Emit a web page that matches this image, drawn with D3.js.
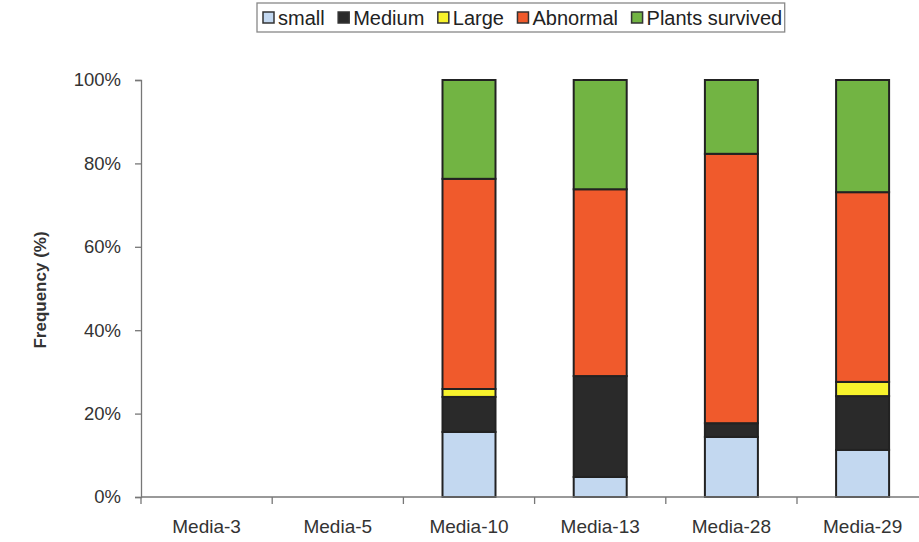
<!DOCTYPE html>
<html>
<head>
<meta charset="utf-8">
<script src="https://cdn.jsdelivr.net/npm/d3@7"></script>
<style>
  html, body { margin: 0; padding: 0; background: #fff; }
  svg { display: block; font-family: "Liberation Sans", Arial, sans-serif; }
</style>
</head>
<body>
<svg id="chart" width="919" height="542"></svg>
<script>
// Media treatments on the x axis
const categories = ["Media-3", "Media-5", "Media-10", "Media-13", "Media-28", "Media-29"];

// Outcome classes, stacked bottom to top
const seriesNames = ["small", "Medium", "Large", "Abnormal", "Plants survived"];
const seriesColors = ["#c3d8f0", "#2a2a2a", "#f7f22c", "#f05a2c", "#72b443"];

// Share of each class per medium (fractions of 1)
const small          = [0, 0, 0.156, 0.048, 0.144, 0.113];
const medium         = [0, 0, 0.084, 0.242, 0.033, 0.129];
const large          = [0, 0, 0.019, 0.000, 0.000, 0.034];
const abnormal       = [0, 0, 0.504, 0.448, 0.646, 0.455];
const plantsSurvived = [0, 0, 0.237, 0.262, 0.177, 0.269];

const yTicks = [0, 0.2, 0.4, 0.6, 0.8, 1.0];

const seriesValues = [small, medium, large, abnormal, plantsSurvived];
const rows = categories.map((c, i) => {
  const r = { cat: c };
  seriesNames.forEach((s, k) => { r[s] = seriesValues[k][i]; });
  return r;
});

const svg = d3.select("#chart");
const plotLeft = 141, plotTop = 80, plotBottom = 497, bandW = 131.2;

const x = d3.scaleBand()
  .domain(categories)
  .range([plotLeft, plotLeft + bandW * categories.length])
  .padding(0);

const y = d3.scaleLinear().domain([0, 1]).range([plotBottom, plotTop]);

const stack = d3.stack().keys(seriesNames);
const layers = stack(rows);

// Stacked bars
const barW = 53;
svg.append("g").selectAll("g")
  .data(layers)
  .join("g")
  .attr("fill", (d, i) => seriesColors[i])
  .selectAll("rect")
  .data(d => d.filter(p => p[1] - p[0] > 0))
  .join("rect")
  .attr("x", d => x(d.data.cat) + x.bandwidth() / 2 - barW / 2)
  .attr("y", d => y(d[1]))
  .attr("width", barW)
  .attr("height", d => y(d[0]) - y(d[1]))
  .attr("stroke", "#222")
  .attr("stroke-width", 2);

// Y axis
const yAxis = d3.axisLeft(y)
  .tickValues(yTicks)
  .tickFormat(d3.format(".0%"))
  .tickSize(6)
  .tickPadding(14);
const gy = svg.append("g").attr("transform", `translate(${plotLeft},0)`).call(yAxis);
gy.select(".domain").attr("stroke", "#777").attr("stroke-width", 1.3);
gy.selectAll(".tick line").attr("stroke", "#777").attr("stroke-width", 1.3);
gy.selectAll(".tick text")
  .attr("font-size", 18.5)
  .attr("fill", "#333")
  .attr("font-family", "Liberation Sans, Arial, sans-serif");

// X axis: ticks at the category boundaries
const gx = svg.append("g").attr("transform", `translate(0,${plotBottom})`);
gx.append("line")
  .attr("x1", plotLeft).attr("x2", x.range()[1])
  .attr("stroke", "#777").attr("stroke-width", 1.3);
gx.selectAll("line.tk")
  .data(d3.range(categories.length + 1))
  .join("line")
  .attr("class", "tk")
  .attr("x1", i => plotLeft + i * x.step())
  .attr("x2", i => plotLeft + i * x.step())
  .attr("y1", 0).attr("y2", 7)
  .attr("stroke", "#777").attr("stroke-width", 1.3);
gx.selectAll("text")
  .data(categories)
  .join("text")
  .attr("x", d => x(d) + x.bandwidth() / 2)
  .attr("y", 36)
  .attr("text-anchor", "middle")
  .attr("font-size", 19)
  .attr("fill", "#333")
  .text(d => d);

// Y axis title
svg.append("text")
  .attr("transform", "translate(46,290) rotate(-90)")
  .attr("text-anchor", "middle")
  .attr("font-size", 17)
  .attr("font-weight", "bold")
  .attr("fill", "#333")
  .text("Frequency (%)");

// Legend
const lg = svg.append("g");
const box = lg.append("rect")
  .attr("fill", "#fff").attr("stroke", "#888").attr("stroke-width", 1.3);
let cx = 263;
const items = lg.selectAll("g.item")
  .data(seriesNames)
  .join("g").attr("class", "item");
items.each(function (d, i) {
  const g = d3.select(this);
  g.append("rect")
    .attr("x", cx).attr("y", 12).attr("width", 11).attr("height", 11)
    .attr("fill", seriesColors[i]).attr("stroke", "#333").attr("stroke-width", 1.5);
  const t = g.append("text")
    .attr("x", cx + 15).attr("y", 25)
    .attr("font-size", 20).attr("fill", "#222")
    .text(d);
  cx += 15 + t.node().getComputedTextLength() + 13.5;
});
box.attr("x", 257).attr("y", 3).attr("width", cx - 257 - 11).attr("height", 29);
</script>
</body>
</html>
